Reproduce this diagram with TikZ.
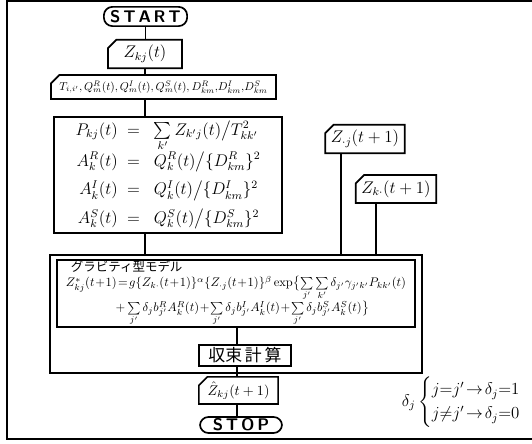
\documentclass[tikz,border=0pt]{standalone}
\usepackage{amsmath,amssymb}
\usepackage{graphicx}
\usepackage{fontspec}
\newfontfamily\jpfont{Noto Sans CJK JP}
\usetikzlibrary{shapes.misc, positioning, calc}

% tight math spacing for the hand-lettered formulas
\newcommand{\tightmath}{\medmuskip=1mu plus 1mu\thickmuskip=2mu plus 1mu}

\begin{document}
\begin{tikzpicture}[x=0.025cm, y=-0.025cm, very thick,
    terminal/.style={draw, rectangle, rounded corners=6pt, inner sep=1pt, font=\large\bfseries\sffamily},
    card/.style={draw, chamfered rectangle, chamfered rectangle corners=north west,
                 chamfered rectangle xsep=3pt, chamfered rectangle ysep=3pt, inner sep=1pt},
    procbox/.style={draw, rectangle, inner sep=2pt}]

    \useasboundingbox (0,0) rectangle (532,444);

    % --- Frame ---
    \draw (532,1) -- (7,1) -- (7,439) -- (532,439);

    % --- Input chain ---
    \node[terminal, minimum width=2.08cm, minimum height=0.48cm] (start) at (145.5,16.5) {S\,T\,A\,R\,T};
    \node[card, minimum width=1.85cm, minimum height=0.55cm, font=\large] (zkj) at (145,54) {$Z_{kj}(t)$};
    \node[card, minimum width=5.48cm, minimum height=0.5cm, inner xsep=3pt] (tin) at (163.5,87)
        {\resizebox{5.2cm}{!}{\tightmath$T_{i,i'}{,}\,Q^R_m(t){,}\,Q^I_m(t){,}\,Q^S_m(t){,}\,D^R_{km}{,}D^I_{km}{,}D^S_{km}$}};

    % --- Accessibility box ---
    \node[procbox, minimum width=5.7cm, minimum height=2.9cm, font=\large] (acc) at (168,175)
        {$\begin{array}{r@{\;\;=\;\;\;}l}
            P_{kj}(t) & \sum\limits_{k'} Z_{k'j}(t)\big/ T^2_{kk'}\\[6pt]
            A^R_k(t) & Q^R_k(t)\big/\{D^R_{km}\}^2\\[6pt]
            A^I_k(t) & Q^I_k(t)\big/\{D^I_{km}\}^2\\[6pt]
            A^S_k(t) & Q^S_k(t)\big/\{D^S_{km}\}^2
        \end{array}$};

    % --- Future totals ---
    \node[card, minimum width=1.93cm, minimum height=0.58cm, font=\large] (zj) at (365,139) {$Z_{\cdot j}(t+1)$};
    \node[card, minimum width=1.7cm, minimum height=0.6cm, font=\large] (zk) at (396,189) {$Z_{k\cdot}(t+1)$};

    % --- Iteration loop ---
    \node[procbox, minimum width=9.3cm, minimum height=2.95cm] (loop) at (236,314) {};
    \node[procbox, minimum width=8.95cm, minimum height=1.68cm, inner ysep=1pt] (grav) at (236,293.5)
        {\resizebox{8.5cm}{!}{\tightmath\renewcommand\arraystretch{0.95}\begin{tabular}{@{}l@{}}
            \hspace*{4pt}{\jpfont グラビティ型モデル}\\
            $Z^{*}_{kj}(t+1)=g\{Z_{k\cdot}(t+1)\}^{\alpha}\{Z_{\cdot j}(t+1)\}^{\beta}\exp\bigl\{\sum\limits_{j'}\sum\limits_{k'}\delta_{j'}\gamma_{j'k'}P_{kk'}(t)$\\
            \hspace*{1.4cm}$+\sum\limits_{j'}\delta_j b^R_{j'}A^R_k(t)+\sum\limits_{j'}\delta_j b^I_{j'}A^I_k(t)+\sum\limits_{j'}\delta_j b^S_{j'}A^S_k(t)\bigr\}$
        \end{tabular}}};
    \node[procbox, minimum width=2.3cm, minimum height=0.53cm, font=\large] (conv) at (245,355.5) {\jpfont 収束\,計\,算};

    % --- Output chain ---
    \node[card, minimum width=1.98cm, minimum height=0.45cm, inner sep=0.5pt] (zhat) at (238.5,390.5) {$\hat{Z}_{kj}(t+1)$};
    \node[terminal, minimum width=2.05cm, minimum height=0.4cm] (stop) at (241,425) {S\,T\,O\,P};
    \coordinate (spine) at (237,330);

    % --- Connectors ---
    \draw (start.south) -- (start.south |- zkj.north);
    \draw (zkj.south) -- (zkj.south |- tin.north);
    \draw (tin.south -| zkj) -- (acc.north -| zkj);
    \draw (acc.south -| zkj) -- (loop.north -| zkj);
    \draw ([xshift=-0.6cm]zj.south) -- ([xshift=-0.6cm]zj.south |- loop.north);
    \draw ([xshift=-0.5cm]zk.south) -- ([xshift=-0.5cm]zk.south |- loop.north);
    \draw (grav.south -| spine) -- (conv.north -| spine);
    \draw (conv.south -| spine) -- (zhat.north -| spine);
    \draw (zhat.south -| spine) -- (stop.north -| spine);

    % --- Note ---
    \node[font=\large] (delta) at (470,402)
        {\tightmath$\delta_j\begin{cases} j{=}j'\to\delta_j{=}1\\ j{\neq}j'\to\delta_j{=}0\end{cases}$};

\end{tikzpicture}
\end{document}
